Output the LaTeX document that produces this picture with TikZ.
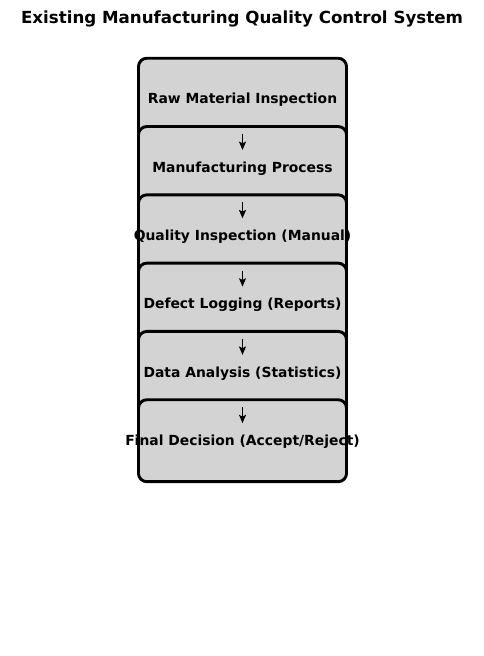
\documentclass[tikz,border=0pt]{standalone}
\usepackage{fontspec}
\setmainfont{DejaVu Sans}
\usetikzlibrary{arrows.meta}
\definecolor{boxgray}{HTML}{D3D3D3}
\tikzset{
  px/.style={x=0.72pt,y=-0.72pt},
  stagebox/.style={draw=black, fill=boxgray, line width=2.1pt, rounded corners=6pt,
    minimum width=149.8pt, minimum height=59pt, inner sep=0pt},
  stagetext/.style={font=\bfseries\fontsize{10pt}{12pt}\selectfont, inner sep=0pt, yshift=-0.6pt},
  flowarrow/.style={-{Stealth[length=6pt,width=5pt,inset=1.2pt]}, line width=1.3pt,
    shorten <=25pt, shorten >=12.6pt},
  titletext/.style={font=\bfseries\fontsize{12pt}{14pt}\selectfont, inner sep=0pt}
}
\begin{document}
\begin{tikzpicture}[px]
\useasboundingbox (0,0) rectangle (484,656);
\node[titletext] (title) at (242,19) {Existing Manufacturing Quality Control System};
\node[stagebox] (b1) at (242.5,99.2) {};
\node[stagetext] (t1) at (b1.center) {Raw Material Inspection};
\node[stagebox] (b2) at (242.5,167.5) {};
\node[stagetext] (t2) at (b2.center) {Manufacturing Process};
\draw[flowarrow] (b1.center) -- (b2.center);
\node[stagebox] (b3) at (242.5,235.8) {};
\node[stagetext] (t3) at (b3.center) {Quality Inspection (Manual)};
\draw[flowarrow] (b2.center) -- (b3.center);
\node[stagebox] (b4) at (242.5,304.1) {};
\node[stagetext] (t4) at (b4.center) {Defect Logging (Reports)};
\draw[flowarrow] (b3.center) -- (b4.center);
\node[stagebox] (b5) at (242.5,372.4) {};
\node[stagetext] (t5) at (b5.center) {Data Analysis (Statistics)};
\draw[flowarrow] (b4.center) -- (b5.center);
\node[stagebox] (b6) at (242.5,440.7) {};
\node[stagetext] (t6) at (b6.center) {Final Decision (Accept/Reject)};
\draw[flowarrow] (b5.center) -- (b6.center);
\end{tikzpicture}
\end{document}
